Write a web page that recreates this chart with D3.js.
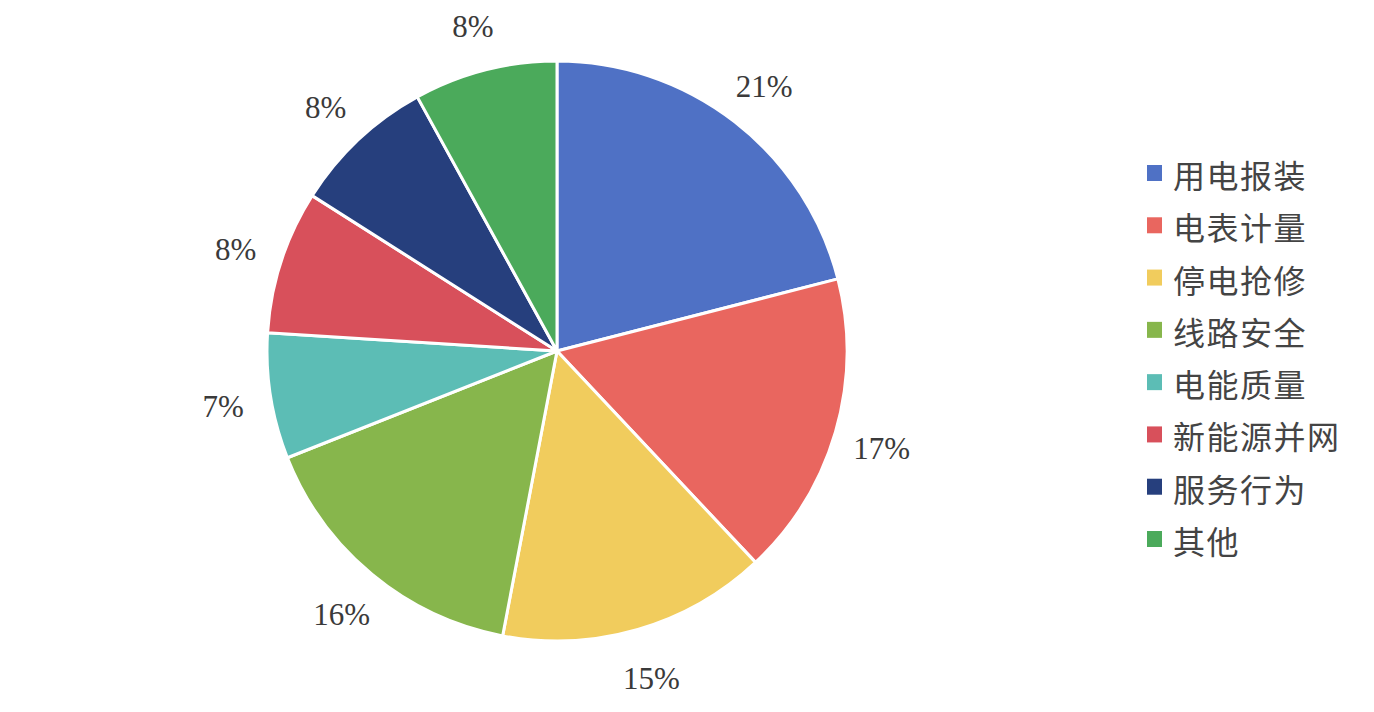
<!DOCTYPE html>
<html><head><meta charset="utf-8">
<script src="https://cdn.jsdelivr.net/npm/d3@7"></script>
<style>body{margin:0;background:#fff;}svg{display:block;}</style>
</head><body>
<svg id="c" width="1374" height="712"></svg>
<script>
const categories = ["用电报装","电表计量","停电抢修","线路安全","电能质量","新能源并网","服务行为","其他"];
const values = [21,17,15,16,7,8,8,8];
const labels = ["21%","17%","15%","16%","7%","8%","8%","8%"];
const colors = ["#4F71C5","#E9665F","#F1CC5D","#87B64C","#5CBDB5","#D8505B","#263F7D","#4BAA5B"];

const svg = d3.select("#c");
const cx = 557, cy = 351, r = 290, lr = 338;
const pie = d3.pie().sort(null).value(d=>d)(values);
const arc = d3.arc().innerRadius(0).outerRadius(r);
const larc = d3.arc().innerRadius(lr).outerRadius(lr);
const g = svg.append("g").attr("transform",`translate(${cx},${cy})`);
g.selectAll("path").data(pie).join("path")
  .attr("d",arc).attr("fill",(d,i)=>colors[i])
  .attr("stroke","#fff").attr("stroke-width",3).attr("stroke-linejoin","round");
g.selectAll("text").data(pie).join("text")
  .attr("transform",d=>{const c=larc.centroid(d);return `translate(${c[0]},${c[1]+3})`;})
  .attr("text-anchor","middle").attr("dominant-baseline","central")
  .attr("font-family","'Liberation Serif','DejaVu Serif',serif")
  .attr("font-size",31).attr("fill","#3a3a3a")
  .text((d,i)=>labels[i]);

const y = d3.scalePoint().domain(categories).range([173,539]);
const lg = svg.append("g");
const items = lg.selectAll("g").data(categories).join("g")
  .attr("transform",d=>`translate(1147,${y(d)})`);
items.append("rect").attr("x",0).attr("y",-8).attr("width",15).attr("height",16)
  .attr("fill",(d,i)=>colors[i]);
items.append("text").attr("x",26).attr("y",1).attr("dominant-baseline","central")
  .attr("font-family","'Noto Sans CJK SC',sans-serif").attr("font-size",32)
  .attr("letter-spacing",1.5)
  .attr("fill","#444").text(d=>d);
</script>
</body></html>
